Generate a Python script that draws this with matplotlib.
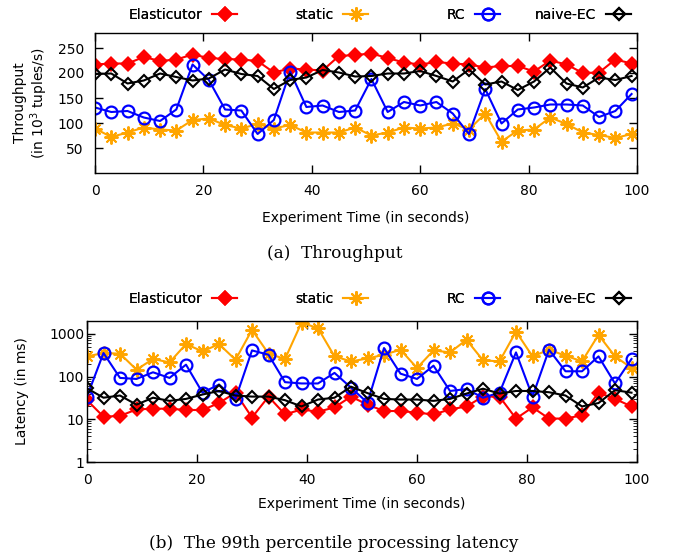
import numpy as np
import matplotlib
matplotlib.use("Agg")
import matplotlib.pyplot as plt
from matplotlib.lines import Line2D

# tiempo del experimento (s)
t = np.arange(0, 100, 3)

# throughput (10^3 tuples/s)
thr_elasticutor = [217, 219, 219, 232, 224, 227, 237, 230, 228, 227, 224, 201, 209, 207, 205, 234, 236, 239,
                   230, 221, 217, 222, 219, 217, 211, 214, 214, 203, 225, 217, 200, 201, 227, 219]
thr_static = [89, 72, 81, 91, 87, 85, 106, 109, 96, 89, 98, 89, 96, 81, 81, 81, 91, 75,
              81, 91, 89, 91, 99, 87, 119, 63, 85, 87, 111, 98, 81, 76, 70, 78]
thr_rc = [131, 122, 124, 111, 104, 127, 217, 186, 127, 125, 78, 106, 203, 132, 135, 122, 125, 188,
          122, 142, 135, 142, 119, 78, 168, 99, 127, 131, 137, 137, 135, 112, 124, 158]
thr_naive = [198, 199, 179, 185, 199, 192, 185, 189, 207, 198, 194, 168, 186, 191, 206, 201, 193, 194,
             199, 199, 204, 194, 183, 207, 177, 183, 166, 183, 211, 179, 171, 191, 186, 194]

# latencia percentil 99 (ms)
lat_elasticutor = [28, 11.5, 12, 17, 17.7, 17.7, 16.5, 16.5, 24, 42, 11, 34, 13, 17, 15, 19, 34, 22,
                   15.6, 15.6, 14.3, 13, 17, 20, 34, 34, 10.4, 19, 10.4, 10.4, 12.4, 42, 30, 20]
lat_static = [297, 356, 344, 145, 258, 215, 575, 388, 575, 248, 1240, 344, 258, 1835, 1356, 297, 227, 265,
              325, 425, 159, 409, 368, 725, 240, 227, 1132, 297, 425, 308, 227, 948, 297, 159]
lat_rc = [34, 356, 93, 88, 126, 93, 190, 42, 65, 30, 409, 325, 74, 69, 69, 122, 55, 24.4,
          465, 117, 88, 180, 46, 51, 32, 42, 368, 34, 425, 133, 133, 297, 69, 258]
lat_naive = [53, 32, 36, 22, 32, 27, 30, 38, 46, 36, 34, 34, 28, 20, 29, 32, 58, 41,
             30, 29, 29, 27, 30, 40, 52, 40, 46, 46, 43, 36, 20, 24, 48, 42]

names = ["Elasticutor", "static", "RC", "naive-EC"]
colors = ["#ff0000", "#ffa500", "#0000ff", "#000000"]
star = (8, 2, 0)
styles = [
    dict(marker="D", markersize=8, markerfacecolor="#ff0000", markeredgewidth=0),
    dict(marker=star, markersize=10, markeredgewidth=1.4),
    dict(marker="o", markersize=8.5, markerfacecolor="none", markeredgewidth=1.6),
    dict(marker="D", markersize=6.5, markerfacecolor="none", markeredgewidth=1.5),
]

plt.rcParams["font.family"] = "DejaVu Sans"
plt.rcParams["font.size"] = 10

fig = plt.figure(figsize=(6.75, 5.56), dpi=100)
ax1 = fig.add_axes([95 / 675, 1 - 173 / 556, 542 / 675, 140 / 556])
ax2 = fig.add_axes([87 / 675, 1 - 462 / 556, 550 / 675, 141 / 556])


def draw(ax, series, ypad):
    for ys, c, st in zip(series, colors, styles):
        ax.plot(t, ys, color=c, lw=1.5, **st)
    ax.set_xlim(0, 100)
    ax.set_xticks(range(0, 101, 20))
    ax.tick_params(direction="in", top=True, right=True, length=6, width=1, labelsize=10)
    ax.tick_params(axis="x", pad=8)
    ax.tick_params(axis="y", pad=ypad)
    ax.tick_params(which="minor", direction="in", right=True, length=3)
    for s in ax.spines.values():
        s.set_linewidth(1)
    ax.set_xlabel("Experiment Time (in seconds)")


draw(ax1, [thr_elasticutor, thr_static, thr_rc, thr_naive], 8)
ax1.set_ylim(0, 280)
ax1.set_yticks([50, 100, 150, 200, 250])
ax1.set_ylabel("Throughput\n(in 10$^3$ tuples/s)", linespacing=1.1)
ax1.yaxis.set_label_coords(-0.083, 0.5)
ax1.xaxis.set_label_coords(0.5, -0.27)

draw(ax2, [lat_elasticutor, lat_static, lat_rc, lat_naive], 2)
ax2.set_yscale("log")
ax2.set_ylim(1, 2000)
ax2.set_yticks([1, 10, 100, 1000])
ax2.set_yticklabels(["1", "10", "100", "1000"])
ax2.set_ylabel("Latency (in ms)")
ax2.yaxis.set_label_coords(-0.105, 0.5)
ax2.xaxis.set_label_coords(0.5, -0.25)

# leyendas estilo gnuplot (texto a la izquierda de la muestra)
right_edges = [237, 368, 500, 631]
for ycen in [15, 299]:
    for name, c, st, xr in zip(names, colors, styles, right_edges):
        h = Line2D([], [], color=c, lw=1.5, **st)
        leg = fig.legend([h], [name], loc="center right", bbox_to_anchor=(xr / 675, 1 - ycen / 556),
                         frameon=False, markerfirst=False, handlelength=1.8, handletextpad=0.7,
                         borderpad=0, borderaxespad=0, numpoints=1)
        fig.add_artist(leg)

fig.text(335 / 675, 1 - 253 / 556, "(a)  Throughput", ha="center", va="center",
         family="DejaVu Serif", fontsize=12.2)
fig.text(334 / 675, 1 - 543 / 556, "(b)  The 99th percentile processing latency", ha="center", va="center",
         family="DejaVu Serif", fontsize=12.2)

fig.savefig("out.png", dpi=100)
